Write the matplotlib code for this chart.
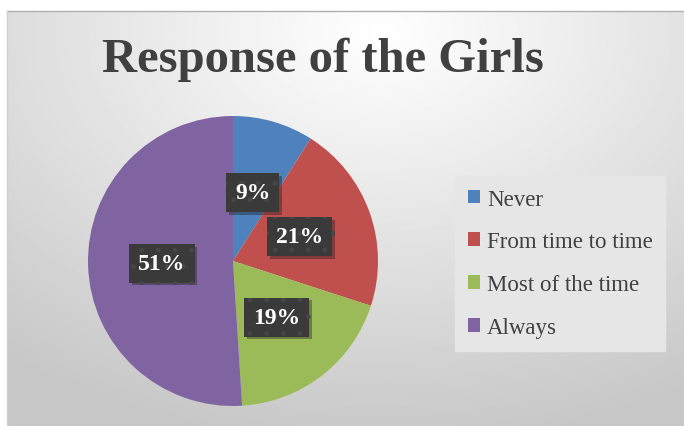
import numpy as np
import matplotlib
matplotlib.use('Agg')
import matplotlib.pyplot as plt
import matplotlib.patheffects as pe

title = 'Response of the Girls'
categories = ['Never', 'From time to time', 'Most of the time', 'Always']
values = [9, 21, 19, 51]
colors = ['#4f81bd', '#c0504d', '#9bbb59', '#8064a2']

W, H = 684, 427
fig = plt.figure(figsize=(W / 100, H / 100), dpi=100)
fig.patch.set_facecolor('white')

# background panel with a radial grey gradient
bg = fig.add_axes([7 / W, 0, (W - 7) / W, (H - 12) / H])
yy, xx = np.mgrid[0:1:300j, 0:1:500j]
d = np.sqrt(((xx - 0.55) / 0.9) ** 2 + ((yy - 0.05) / 1.0) ** 2)
shade = np.clip(1.0 - 0.22 * d, 0.78, 1.0)
bg.imshow(shade, cmap='gray', vmin=0, vmax=1, aspect='auto', extent=[0, 1, 0, 1], origin='upper')
bg.set_xlim(0, 1)
bg.set_ylim(0, 1)
bg.axis('off')
fig.add_artist(plt.Line2D([7 / W, 1], [(H - 12) / H] * 2, color='#b0b0b0', lw=1))
fig.add_artist(plt.Line2D([7 / W, 7 / W], [0, (H - 12) / H], color='#d0d0d0', lw=1))

fig.text(323 / W, 1 - 60 / H, title, ha='center', va='center', fontsize=35,
         fontweight='bold', family='Liberation Serif', color='#404040')

# pie
cx, cy, r = 233, 262, 145
ax = fig.add_axes([(cx - r) / W, (H - cy - r) / H, 2 * r / W, 2 * r / H])
wedges, texts, autotexts = ax.pie(values, colors=colors, startangle=90, counterclock=False,
                                  autopct='%d%%', pctdistance=0.49, radius=1,
                                  wedgeprops=dict(linewidth=0))
for t in autotexts:
    t.set_color('white')
    t.set_fontsize(17)
    t.set_fontweight('bold')
    t.set_family('Liberation Serif')
    t.set_bbox(dict(boxstyle='square,pad=0.38', facecolor='#3a3a3a', edgecolor='#474747',
                    hatch='.', linewidth=0,
                    path_effects=[pe.SimplePatchShadow(offset=(2, -2), alpha=0.35), pe.Normal()]))
ax.set_xlim(-1, 1)
ax.set_ylim(-1, 1)
ax.set_aspect('equal')

leg = fig.legend(wedges, categories, loc='upper left',
                 bbox_to_anchor=(455 / W, 1 - 177 / H), frameon=True, fancybox=False,
                 prop={'family': 'Liberation Serif', 'size': 16.5}, labelcolor='#404040',
                 handlelength=0.55, handleheight=0.55, handletextpad=0.3, labelspacing=0.95,
                 borderpad=0.55, borderaxespad=0)
leg.get_frame().set_facecolor('#e6e6e6')
leg.get_frame().set_edgecolor('#e6e6e6')
leg.get_frame().set_alpha(1)

fig.savefig('out.png', dpi=100)
